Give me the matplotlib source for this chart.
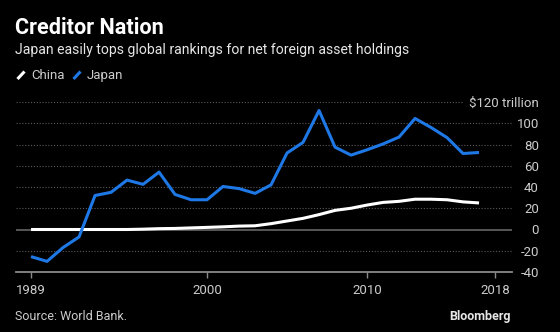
import matplotlib
matplotlib.use("Agg")
import matplotlib.pyplot as plt
from matplotlib.lines import Line2D
from matplotlib.ticker import FixedLocator, FuncFormatter

# Net foreign asset holdings, trillions of dollars
years = list(range(1989, 2018))
japan = [-25.5, -30, -17, -7, 32, 35, 46.5, 42.5, 54, 33, 28, 28, 40.5, 38.5, 34,
         42, 72, 82, 112, 77.5, 70, 75, 80.5, 87, 104.5, 96, 86.5, 71.5, 72.5]
china = [0, 0, 0, 0, 0, 0, 0, 0.3, 0.8, 1, 1.5, 2, 2.5, 3.2, 3.5,
         5.5, 8, 10.5, 14, 18, 20, 23, 25.5, 26.5, 28.5, 28.5, 28, 26, 25]

x_ticks = [1989, 2000, 2010, 2018]
y_ticks = [-40, -20, 0, 20, 40, 60, 80, 100, 120]

title = "Creditor Nation"
subtitle = "Japan easily tops global rankings for net foreign asset holdings"
source = "Source: World Bank."

BG = "#000000"
BLUE = "#1E78E6"
WHITE = "#FFFFFF"
LABEL = "#CCCCCC"
GRID = "#5A5A5A"

plt.rcParams["font.family"] = ["Roboto", "DejaVu Sans"]

W, H = 560, 332
fig = plt.figure(figsize=(W / 100, H / 100), dpi=100, facecolor=BG)


def fx(px):
    return px / W


def fy(py):
    return 1 - py / H


ax = fig.add_axes([fx(16), fy(272), fx(512) - fx(16), fy(102) - fy(272)])
ax.set_facecolor(BG)
ax.set_xlim(1988.06, 2019.06)
ax.set_ylim(-40, 120)

# horizontal reference lines
for v in y_ticks:
    if v == -40:
        ax.axhline(v, color="#8A8A8A", lw=1.3, zorder=1, clip_on=False)
    elif v == 0:
        ax.axhline(v, color="#6E6E6E", lw=1.1, zorder=1)
    elif v == 120:
        ax.hlines(v, 1988.06, 2016.0, color=GRID, lw=0.8, linestyles=(0, (1, 1.6)), zorder=1, clip_on=False)
    else:
        ax.axhline(v, color=GRID, lw=0.8, ls=(0, (1, 1.6)), zorder=1)

ax.plot(years, china, color=WHITE, lw=2.2, solid_capstyle="butt", zorder=3)
ax.plot(years, japan, color=BLUE, lw=2.2, solid_capstyle="butt", zorder=4)

for s in ax.spines.values():
    s.set_visible(False)

ax.xaxis.set_major_locator(FixedLocator(x_ticks))
ax.tick_params(axis="x", colors="#8A8A8A", length=4, width=1, pad=5, labelsize=9.5, labelcolor=LABEL)

ax.yaxis.tick_right()
ax.yaxis.set_major_locator(FixedLocator(y_ticks))
ax.yaxis.set_major_formatter(FuncFormatter(lambda v, p: "$120 trillion" if v == 120 else f"{v:g}"))
ax.tick_params(axis="y", length=0, pad=19.4, labelsize=9.5, labelcolor=LABEL)
for lab in ax.get_yticklabels():
    lab.set_horizontalalignment("right")

# header
fig.text(fx(15), fy(34), title, color=WHITE, fontsize=15.6, fontweight="bold", va="baseline", ha="left")
fig.text(fx(15), fy(54), subtitle, color="#E6E6E6", fontsize=10.1, va="baseline", ha="left")

# legend
fig.add_artist(Line2D([fx(17.5), fx(24.5)], [fy(79), fy(71.5)], color=WHITE, lw=2.2, solid_capstyle="butt"))
fig.text(fx(31), fy(79), "China", color=LABEL, fontsize=9.5, va="baseline", ha="left")
fig.add_artist(Line2D([fx(73.5), fx(80.5)], [fy(79), fy(71.5)], color=BLUE, lw=2.2, solid_capstyle="butt"))
fig.text(fx(87), fy(79), "Japan", color=LABEL, fontsize=9.5, va="baseline", ha="left")

# footer
fig.text(fx(15), fy(320), source, color=LABEL, fontsize=9, va="baseline", ha="left")
fig.text(fx(511), fy(320), "Bloomberg", color="#E6E6E6", fontsize=9, fontweight="bold", va="baseline", ha="right")

fig.savefig("out.png", dpi=100, facecolor=BG)
